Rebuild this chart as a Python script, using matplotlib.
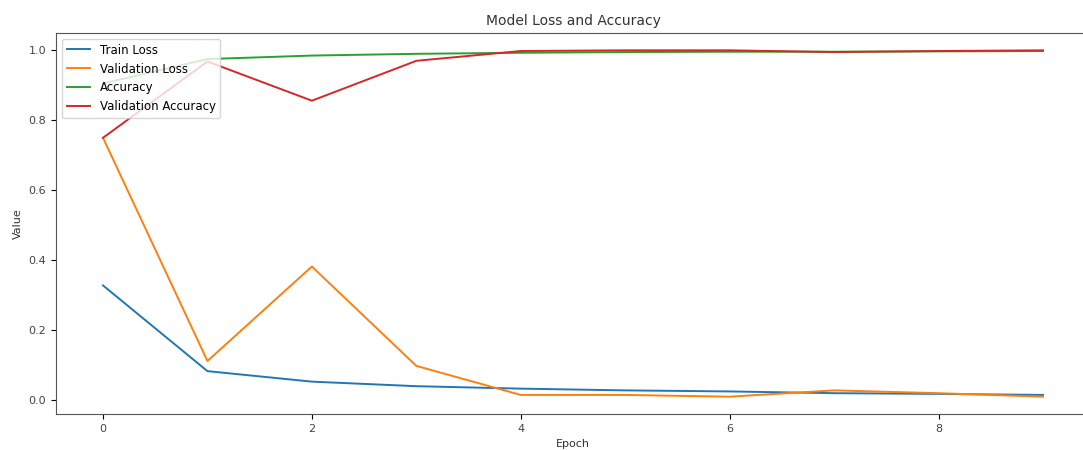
import matplotlib
matplotlib.use("Agg")
import matplotlib.pyplot as plt

epochs = list(range(10))
train_loss = [0.328, 0.083, 0.053, 0.040, 0.033, 0.028, 0.025, 0.020, 0.018, 0.015]
val_loss = [0.750, 0.112, 0.382, 0.098, 0.015, 0.015, 0.010, 0.028, 0.020, 0.010]
accuracy = [0.905, 0.975, 0.985, 0.990, 0.993, 0.995, 0.996, 0.996, 0.997, 0.998]
val_accuracy = [0.750, 0.968, 0.856, 0.970, 0.998, 1.000, 1.000, 0.995, 0.998, 1.000]

fig = plt.figure(figsize=(10.83, 4.5), dpi=100)
ax = fig.add_axes([56/1083, 36/450, (1090-56)/1083, (414-33)/450])
ax.plot(epochs, train_loss, label="Train Loss", lw=1.4)
ax.plot(epochs, val_loss, label="Validation Loss", lw=1.4)
ax.plot(epochs, accuracy, label="Accuracy", lw=1.4)
ax.plot(epochs, val_accuracy, label="Validation Accuracy", lw=1.4)
ax.set_title("Model Loss and Accuracy", fontsize=10, color="#333333")
ax.set_xlabel("Epoch", fontsize=8, color="#333333")
ax.set_ylabel("Value", fontsize=8, color="#333333")
ax.tick_params(labelsize=8, labelcolor="#444444")
for s in ax.spines.values():
    s.set_color("#555555")
ax.set_xticks([0, 2, 4, 6, 8])
ax.legend(loc="upper left", fontsize=8.5)
fig.savefig("out.png", dpi=100)
